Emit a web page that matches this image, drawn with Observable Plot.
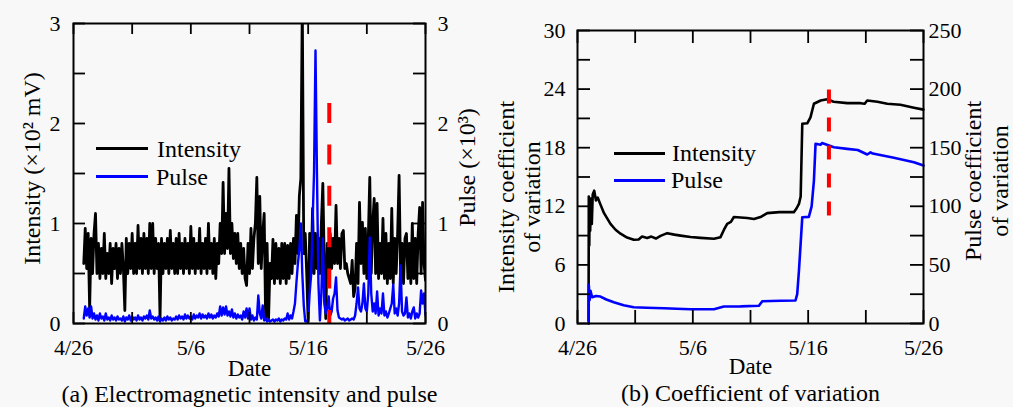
<!DOCTYPE html>
<html><head><meta charset="utf-8">
<script src="https://cdn.jsdelivr.net/npm/d3@7"></script>
<script src="https://cdn.jsdelivr.net/npm/@observablehq/plot@0.6"></script>
<style>
body{margin:0;background:#f8f8f8;}
#root{position:relative;width:1013px;height:407px;overflow:hidden;font-family:'Liberation Serif',serif;}
.panel{position:absolute;top:0;}
.sw{position:absolute;height:3px;}
.lt{position:absolute;font-size:24px;line-height:24px;white-space:nowrap;color:#000;}
</style></head><body><div id="root"></div>
<script>
// ---------- shared time axis ----------
const baseUTC = Date.UTC(2021, 3, 26);            // 4/26
const toDate = d => new Date(baseUTC + d * 86400000);
const xTickDays = [0, 10, 20, 30];
const xTickLabels = ["4/26", "5/6", "5/16", "5/26"];
const xMinorDays = [0, 5, 10, 15, 20, 25, 30];
const eventDay = 21.8;                            // red dashed marker

// ---------- panel (a): 3-hourly samples ----------
const sampleStartDay = 0.875;
const sampleStepDay = 0.125;
const intensity = [
0.6,0.95,0.55,0.9,0.15,0.85,0.5,0.9,
1.1,0.5,0.8,0.45,0.75,0.5,0.9,0.45,
0.7,0.5,0.8,0.4,0.75,0.55,0.8,0.45,
0.75,0.5,0.8,0.55,0.13,0.85,0.5,0.8,
0.55,0.9,0.5,0.8,0.5,0.98,0.55,0.85,
0.5,0.9,0.55,0.85,0.5,1.0,0.55,1.0,
0.5,0.85,0.55,0.8,0.05,0.85,0.5,0.8,
0.55,0.85,0.5,0.93,0.55,0.8,0.5,0.85,
0.5,0.9,0.55,0.8,0.5,0.85,0.55,0.8,
0.5,0.97,0.55,0.85,0.5,0.8,0.55,0.95,
0.5,0.8,0.55,0.85,0.5,1.0,0.55,0.8,
0.5,0.85,0.45,0.8,0.6,1.0,0.7,1.41,
0.7,1.1,0.75,1.55,0.7,1.0,0.65,0.9,
0.6,0.9,0.55,0.8,0.5,0.75,0.45,0.38,
0.8,0.5,0.95,0.55,0.85,1.0,1.46,0.6,
1.27,0.55,0.9,1.1,0.05,0.8,0.05,0.6,
0.45,0.84,0.4,0.8,0.45,0.75,0.4,0.8,
0.45,0.8,0.4,0.78,0.45,0.8,0.5,0.85,
0.6,1.08,0.7,1.28,1.45,3.2,0.7,0.9,
0.5,0.02,0.9,0.5,1.15,0.5,0.9,0.55,
0.85,0.5,1.0,1.4,0.6,0.05,0.8,0.5,
0.9,0.55,0.85,0.6,1.18,0.6,0.85,0.55,
0.9,0.93,0.55,0.6,0.5,0.45,0.4,0.63,
0.27,0.35,0.8,0.4,1.21,0.6,1.01,0.5,
0.95,0.45,0.85,1.46,0.5,1.0,1.25,0.5,
1.2,0.45,0.8,0.5,1.05,0.45,0.9,0.4,
0.8,0.45,1.15,0.4,0.85,0.5,0.9,1.48,
0.5,0.8,0.4,0.85,0.9,0.45,0.8,0.4,
1.0,0.45,0.85,0.4,0.9,1.16,0.5,1.21,
0.6,0.43
];
const pulse = [
0.05,0.17,0.08,0.15,0.06,0.17,0.05,0.1,
0.04,0.08,0.03,0.1,0.05,0.07,0.03,0.1,
0.04,0.06,0.03,0.08,0.04,0.06,0.03,0.07,
0.04,0.05,0.03,0.07,0.02,0.06,0.04,0.08,
0.03,0.07,0.04,0.06,0.03,0.08,0.04,0.06,
0.03,0.07,0.05,0.08,0.04,0.13,0.05,0.07,
0.04,0.06,0.03,0.07,0.02,0.05,0.03,0.06,
0.03,0.07,0.04,0.06,0.03,0.05,0.04,0.07,
0.04,0.08,0.05,0.07,0.04,0.09,0.05,0.08,
0.05,0.07,0.04,0.09,0.05,0.08,0.06,0.1,
0.05,0.09,0.06,0.08,0.05,0.1,0.06,0.09,
0.05,0.08,0.06,0.1,0.07,0.17,0.08,0.16,
0.09,0.17,0.08,0.12,0.07,0.14,0.06,0.1,
0.05,0.09,0.06,0.08,0.04,0.12,0.06,0.15,
0.05,0.15,0.04,0.08,0.03,0.06,0.04,0.28,
0.1,0.05,0.18,0.03,0.05,0.02,0.04,0.02,
0.03,0.04,0.02,0.04,0.03,0.05,0.02,0.04,
0.03,0.05,0.04,0.1,0.04,0.08,0.05,0.12,
0.2,0.41,0.6,0.75,1.0,0.5,0.18,0.02,
0.02,0.04,0.3,0.48,1.0,1.51,2.73,1.5,
0.4,0.03,0.3,0.85,0.2,0.1,0.15,0.27,
0.08,0.12,0.25,0.3,0.46,0.13,0.06,0.05,
0.04,0.05,0.03,0.04,0.05,0.03,0.04,0.05,
0.04,0.08,0.2,0.36,0.15,0.12,0.2,0.4,
0.15,0.12,0.3,0.86,0.3,0.12,0.2,0.1,
0.32,0.08,0.15,0.1,0.3,0.08,0.12,0.06,
0.1,0.15,0.2,0.39,0.1,0.15,0.08,0.2,
0.58,0.12,0.08,0.1,0.26,0.06,0.1,0.05,
0.12,0.16,0.05,0.1,0.06,0.1,0.33,0.2,
0.3,0.08
];
const leftYTicks = [0, 1, 2, 3];
const leftYLabels = ["0", "1", "2", "3"];
const leftYMinor = [0, 0.5, 1, 1.5, 2, 2.5, 3];
const eventTopA = 2.2;

// ---------- panel (b): coefficient of variation ----------
const cvIntensityDays = [0.96,0.98,1.02,1.06,1.1,1.16,1.24,1.32,1.45,1.6,1.75,1.95,2.3,2.86,3.3,3.73,4.3,4.88,5.3,5.6,6.04,6.4,6.8,7.2,7.78,8.4,8.93,9.8,10.67,11.83,12.4,12.7,12.98,13.3,13.56,14.72,15.3,15.87,16.45,17.5,18.76,19.0,19.2,19.35,19.49,19.92,20.2,20.5,21.08,21.65,22.2,23.39,24.54,24.9,25.12,26.0,26.86,28.0,29.17,30.0];
const cvIntensity = [0.3,13.0,8.0,12.5,9.5,12.8,10.2,13.2,13.6,12.6,12.9,12.3,11.3,10.2,9.6,9.2,8.8,8.57,8.6,8.9,8.75,8.9,8.7,8.97,9.25,9.1,9.0,8.85,8.77,8.67,8.84,9.6,10.2,10.4,10.9,10.8,10.7,10.9,11.3,11.4,11.4,11.8,12.25,13.0,20.45,20.5,21.1,22.5,22.83,22.97,22.7,22.56,22.56,22.5,22.83,22.7,22.5,22.4,22.1,21.9];
const cvPulseDays = [0.97,0.98,1.05,1.12,1.27,1.6,1.99,2.5,3.15,4.0,4.88,6.0,7.49,8.6,9.8,11.83,12.3,12.69,14.14,15.73,16.02,17.6,18.9,19.05,19.2,19.49,20.06,20.3,20.5,20.64,21.08,21.2,22.23,23.39,24.3,25.12,25.41,25.6,27.43,29.17,30.0];
const cvPulse = [0,33,20,28,22.4,23.5,23,20.5,18.2,15.5,13.9,13.4,13,12.6,12.2,12.2,13.5,14.5,14.6,15.1,19,19.4,19.6,25,45,90.7,91,100,122,153.3,152.5,154,150.4,149,148,144.2,146,145,141.4,137.6,134.8];
const rightYTicks = [0, 6, 12, 18, 24, 30];
const rightYLabels = ["0", "6", "12", "18", "24", "30"];
const pulseCvLabels = ["0", "50", "100", "150", "200", "250"];
const rightYMinor = [0, 3, 6, 9, 12, 15, 18, 21, 24, 27, 30];
const pulseCvMax = 250, intensityCvMax = 30;
const eventTopB = 23.9, eventBottomB = 10.9;

// ---------- build ----------
const xLabel = d => xTickLabels[xTickDays.indexOf(Math.round((d - baseUTC) / 86400000))];
const fontStyle = {fontFamily: "'Liberation Serif', 'Times New Roman', serif", fontSize: "22px", background: "transparent", overflow: "visible", color: "#000"};

const aIntensity = intensity.map((v, i) => ({date: toDate(sampleStartDay + i * sampleStepDay), value: v}));
const aPulse = pulse.map((v, i) => ({date: toDate(sampleStartDay + i * sampleStepDay), value: v}));

const titleOpts = {textAnchor: "middle", lineAnchor: "middle"};

const plotA = Plot.plot({
  width: 500, height: 407,
  marginLeft: 73, marginRight: 75, marginTop: 23, marginBottom: 84,
  style: fontStyle,
  x: {type: "utc", domain: [toDate(0), toDate(30)]},
  y: {domain: [0, 3]},
  marks: [
    Plot.line(aIntensity, {x: "date", y: "value", stroke: "#000", strokeWidth: 2.8, clip: true}),
    Plot.line(aPulse, {x: "date", y: "value", stroke: "#0000ff", strokeWidth: 2.4, clip: true}),
    Plot.ruleX([toDate(eventDay)], {y1: eventTopA, y2: 0, stroke: "#ff0000", strokeWidth: 4, strokeDasharray: "20,21.4"}),
    Plot.ruleX(xMinorDays.map(toDate), {insetTop: 289, strokeWidth: 1.8}),
    Plot.ruleX(xMinorDays.map(toDate), {insetBottom: 289, strokeWidth: 1.8}),
    Plot.ruleY(leftYMinor, {insetRight: 340, strokeWidth: 1.8}),
    Plot.ruleY(leftYMinor, {insetLeft: 340, strokeWidth: 1.8}),
    Plot.frame({stroke: "#000", strokeWidth: 2}),
    Plot.axisX(xTickDays.map(toDate), {tickSize: 0, tickPadding: 16, tickFormat: xLabel, label: null}),
    Plot.axisY(leftYTicks, {anchor: "left", tickSize: 0, tickPadding: 13, tickFormat: d => leftYLabels[leftYTicks.indexOf(d)], label: null}),
    Plot.axisY(leftYTicks, {anchor: "right", tickSize: 0, tickPadding: 12, tickFormat: d => leftYLabels[leftYTicks.indexOf(d)], label: null}),
    Plot.text(["Date"], {...titleOpts, frameAnchor: "bottom", dy: 45, fontSize: 23}),
    Plot.text(["(a) Electromagnetic intensity and pulse"], {...titleOpts, frameAnchor: "bottom", dy: 71, fontSize: 24}),
    Plot.text(["Intensity (×10² mV)"], {...titleOpts, frameAnchor: "left", rotate: -90, dx: -41, dy: -5, fontSize: 24}),
    Plot.text(["Pulse (×10³)"], {...titleOpts, frameAnchor: "right", rotate: -90, dx: 42, dy: -6, fontSize: 24})
  ]
});

const bIntensity = cvIntensityDays.map((d, i) => ({date: toDate(d), value: cvIntensity[i]}));
const bPulse = cvPulseDays.map((d, i) => ({date: toDate(d), value: cvPulse[i]}));
const k = intensityCvMax / pulseCvMax;

const plotB = Plot.plot({
  width: 513, height: 407,
  marginLeft: 77, marginRight: 90, marginTop: 30, marginBottom: 84,
  style: fontStyle,
  x: {type: "utc", domain: [toDate(0), toDate(30)]},
  y: {domain: [0, intensityCvMax]},
  marks: [
    Plot.line(bIntensity, {x: "date", y: "value", stroke: "#000", strokeWidth: 2.6}),
    Plot.line(bPulse, {x: "date", y: d => d.value * k, stroke: "#0000ff", strokeWidth: 2.6}),
    Plot.ruleX([toDate(eventDay)], {y1: eventTopB, y2: eventBottomB, stroke: "#ff0000", strokeWidth: 4, strokeDasharray: "14,14"}),
    Plot.ruleX(xMinorDays.map(toDate), {insetTop: 280, strokeWidth: 1.8}),
    Plot.ruleX(xMinorDays.map(toDate), {insetBottom: 280, strokeWidth: 1.8}),
    Plot.ruleY(rightYMinor, {insetRight: 333, strokeWidth: 1.8}),
    Plot.ruleY(rightYMinor, {insetLeft: 333, strokeWidth: 1.8}),
    Plot.frame({stroke: "#000", strokeWidth: 2}),
    Plot.axisX(xTickDays.map(toDate), {tickSize: 0, tickPadding: 16, tickFormat: xLabel, label: null}),
    Plot.axisY(rightYTicks, {anchor: "left", tickSize: 0, tickPadding: 12, tickFormat: d => rightYLabels[rightYTicks.indexOf(d)], label: null}),
    Plot.axisY(rightYTicks, {anchor: "right", tickSize: 0, tickPadding: 5, tickFormat: d => pulseCvLabels[rightYTicks.indexOf(d)], label: null}),
    Plot.text(["Date"], {...titleOpts, frameAnchor: "bottom", dy: 43, fontSize: 23}),
    Plot.text(["(b) Coefficient of variation"], {...titleOpts, frameAnchor: "bottom", dy: 70, fontSize: 24}),
    Plot.text(["Intensity coefficient\nof variation"], {...titleOpts, frameAnchor: "left", rotate: -90, dx: -59, dy: 20, fontSize: 24, lineHeight: 1.1}),
    Plot.text(["Pulse coefficient\nof variation"], {...titleOpts, frameAnchor: "right", rotate: -90, dx: 62, dy: 4, fontSize: 24, lineHeight: 1.15})
  ]
});

const root = document.getElementById("root");
plotA.classList.add("panel"); plotA.style.left = "0px";
plotB.classList.add("panel"); plotB.style.left = "500px";
root.appendChild(plotA); root.appendChild(plotB);

// legends
const legends = [
  {x: 96, y: 147, w: 52, color: "#000", text: "Intensity", tx: 157, base: 157},
  {x: 96, y: 174.5, w: 52, color: "#0000ff", text: "Pulse", tx: 156, base: 185},
  {x: 614, y: 151.5, w: 51, color: "#000", text: "Intensity", tx: 672, base: 161},
  {x: 614, y: 178.5, w: 51, color: "#0000ff", text: "Pulse", tx: 671, base: 188}
];
for (const l of legends) {
  const s = document.createElement("div");
  s.className = "sw";
  Object.assign(s.style, {left: l.x + "px", top: l.y + "px", width: l.w + "px", background: l.color});
  root.appendChild(s);
  const t = document.createElement("div");
  t.className = "lt";
  t.textContent = l.text;
  Object.assign(t.style, {left: l.tx + "px", top: (l.base - 20) + "px"});
  root.appendChild(t);
}
</script></body></html>
